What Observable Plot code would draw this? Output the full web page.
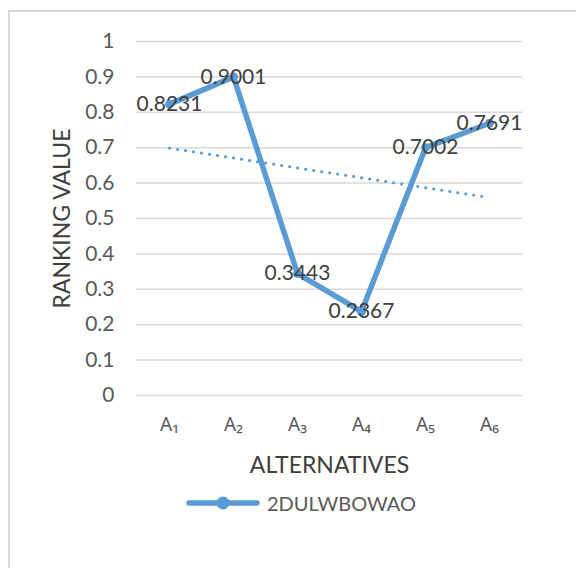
<!DOCTYPE html>
<html>
<head>
<meta charset="utf-8">
<script src="https://cdn.jsdelivr.net/npm/d3@7"></script>
<script src="https://cdn.jsdelivr.net/npm/@observablehq/plot@0.6"></script>
<style>
  html, body { margin: 0; padding: 0; background: #fff; width: 576px; height: 568px; overflow: hidden; }
  #frame { position: absolute; left: 8px; top: 10px; width: 620px; height: 620px; border: 2px solid #d9d9d9; box-sizing: border-box; }
  #chart { position: absolute; left: 0; top: 0; }
  #legend { position: absolute; left: 186px; top: 490px; height: 26px; display: flex; align-items: center; font-family: Lato, "Open Sans", sans-serif; font-size: 20px; color: #595959; }
  #legend svg { margin-right: 7px; }
</style>
</head>
<body>
<div id="frame"></div>
<div id="chart"></div>
<div id="legend"></div>
<script>
const categories = ["A₁", "A₂", "A₃", "A₄", "A₅", "A₆"];
const values = [0.8231, 0.9001, 0.3443, 0.2367, 0.7002, 0.7691];
const yTicks = [0, 0.1, 0.2, 0.3, 0.4, 0.5, 0.6, 0.7, 0.8, 0.9, 1];
const seriesName = "2DULWBOWAO";
const xTitle = "ALTERNATIVES";
const yTitle = "RANKING VALUE";

const data = categories.map((c, i) => ({cat: c, idx: i + 1, value: values[i]}));

// linear trendline (least squares) computed from the values
const mx = d3.mean(data, d => d.idx), my = d3.mean(data, d => d.value);
const slope = d3.sum(data, d => (d.idx - mx) * (d.value - my)) / d3.sum(data, d => (d.idx - mx) ** 2);
const trend = [data[0], data[data.length - 1]].map(d => ({cat: d.cat, value: my + slope * (d.idx - mx)}));

const blue = "#5B9BD5";
const font = "Lato, 'Open Sans', sans-serif";

const chart = Plot.plot({
  width: 576,
  height: 480,
  marginTop: 41,
  marginBottom: 85,
  marginLeft: 136,
  marginRight: 54,
  style: {fontFamily: font, background: "transparent", overflow: "visible"},
  x: {type: "point", domain: categories, padding: 0.5},
  y: {domain: [0, 1]},
  marks: [
    Plot.ruleY(yTicks, {stroke: "#d9d9d9", strokeWidth: 1.5, strokeOpacity: 1}),
    Plot.axisY(yTicks, {tickSize: 0, tickPadding: 22, fontSize: 21, fill: "#595959", label: null, tickFormat: d => String(d)}),
    Plot.axisX({tickSize: 0, tickPadding: 22, fontSize: 19, fontFamily: "'Noto Sans', 'Open Sans', sans-serif", fill: "#595959", label: null}),
    Plot.text([xTitle], {frameAnchor: "bottom", dy: 77, fontSize: 23, fill: "#404040", text: d => d}),
    Plot.text([yTitle], {frameAnchor: "left", dx: -74, rotate: -90, textAnchor: "middle", fontSize: 23, fill: "#404040", text: d => d}),
    Plot.line(trend, {x: "cat", y: "value", stroke: blue, strokeWidth: 3, strokeDasharray: "0.1 8", strokeLinecap: "round"}),
    Plot.line(data, {x: "cat", y: "value", stroke: blue, strokeWidth: 5.5, strokeLinejoin: "round", strokeLinecap: "round"}),
    Plot.dot(data, {x: "cat", y: "value", r: 4.5, fill: blue, stroke: null}),
    Plot.text(data, {x: "cat", y: "value", text: d => d.value.toFixed(4), fontSize: 21, fill: "#404040", lineAnchor: "middle"})
  ]
});
document.getElementById("chart").appendChild(chart);

// legend
const legend = document.getElementById("legend");
legend.innerHTML = `<svg width="74" height="16"><line x1="3" y1="8" x2="71" y2="8" stroke="${blue}" stroke-width="5.5" stroke-linecap="round"/><circle cx="37" cy="8" r="6.5" fill="${blue}"/></svg><span></span>`;
legend.querySelector("span").textContent = seriesName;
</script>
</body>
</html>
